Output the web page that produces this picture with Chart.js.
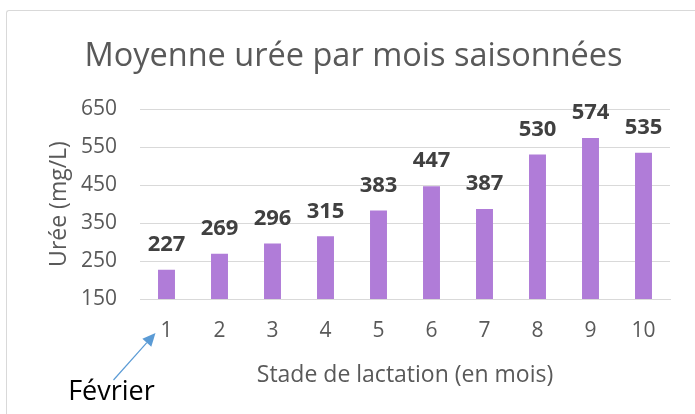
<!DOCTYPE html>
<html>
<head>
<meta charset="utf-8">
<script src="https://cdn.jsdelivr.net/npm/chart.js@4/dist/chart.umd.min.js"></script>
<style>
  html, body { margin: 0; padding: 0; background: #fff; }
  #wrap { position: relative; width: 695px; height: 414px; }
  #frame { position: absolute; left: 6px; top: 10px; right: 0; bottom: 0; border-left: 1px solid #d9d9d9; border-top: 1px solid #d9d9d9; border-radius: 3px 0 0 0; pointer-events: none; }
  canvas { position: absolute; left: 0; top: 0; }
</style>
</head>
<body>
<div id="wrap">
  <div id="frame"></div>
  <canvas id="c" width="695" height="414"></canvas>
</div>
<script>
const categories = ['1', '2', '3', '4', '5', '6', '7', '8', '9', '10'];
const ureaValues = [227, 269, 296, 315, 383, 447, 387, 530, 574, 535];
const yTicks = [150, 250, 350, 450, 550, 650];
const titleText = 'Moyenne urée par mois saisonnées';
const xTitle = 'Stade de lactation (en mois)';
const yTitle = 'Urée (mg/L)';
const noteText = 'Février';

const FONT = "'Open Sans', 'Noto Sans', sans-serif";

const valueLabels = {
  id: 'valueLabels',
  afterDatasetsDraw(chart) {
    const ctx = chart.ctx;
    const meta = chart.getDatasetMeta(0);
    ctx.save();
    ctx.font = "bold 22px " + FONT;
    ctx.fillStyle = '#404040';
    ctx.textAlign = 'center';
    ctx.textBaseline = 'middle';
    meta.data.forEach((bar, i) => {
      ctx.fillText(String(chart.data.datasets[0].data[i]), bar.x, bar.y - 25);
    });
    ctx.restore();
  }
};

const texts = {
  id: 'texts',
  afterDraw(chart) {
    const ctx = chart.ctx;
    const ca = chart.chartArea;
    ctx.save();
    ctx.font = "32.5px " + FONT;
    ctx.fillStyle = '#595959';
    ctx.textAlign = 'center';
    ctx.textBaseline = 'middle';
    ctx.fillText(titleText, chart.width / 2 + 6, 57);
    ctx.save();
    ctx.translate(59, (ca.top + ca.bottom) / 2);
    ctx.rotate(-Math.PI / 2);
    ctx.font = "23px " + FONT;
    ctx.fillText(yTitle, 0, 0);
    ctx.restore();
    const xs = chart.scales.x;
    const tx = xs.getPixelForValue(0) - 11;
    const ty = xs.top + 34;
    const sx = tx - 42, sy = ty + 47;
    ctx.strokeStyle = '#5b9bd5';
    ctx.fillStyle = '#5b9bd5';
    ctx.lineWidth = 1.2;
    const ang = Math.atan2(ty - sy, tx - sx);
    const hl = 13, hw = 6;
    const bx = tx - hl * Math.cos(ang), by = ty - hl * Math.sin(ang);
    ctx.beginPath();
    ctx.moveTo(sx, sy);
    ctx.lineTo(bx, by);
    ctx.stroke();
    ctx.beginPath();
    ctx.moveTo(tx, ty);
    ctx.lineTo(bx + hw * Math.sin(ang), by - hw * Math.cos(ang));
    ctx.lineTo(bx - hw * Math.sin(ang), by + hw * Math.cos(ang));
    ctx.closePath();
    ctx.fill();
    ctx.font = "27px " + FONT;
    ctx.fillStyle = '#000';
    ctx.fillText(noteText, sx - 2, sy + 12);
    ctx.restore();
  }
};

new Chart(document.getElementById('c'), {
  type: 'bar',
  data: {
    labels: categories,
    datasets: [{
      data: ureaValues,
      backgroundColor: '#b07cd8',
      borderWidth: 0,
      categoryPercentage: 1,
      barPercentage: 0.32
    }]
  },
  options: {
    responsive: false,
    animation: false,
    devicePixelRatio: 1,
    layout: { padding: { left: 0, right: 25, top: 109, bottom: 25 } },
    plugins: {
      legend: { display: false },
      tooltip: { enabled: false },
      title: { display: false }
    },
    scales: {
      x: {
        grid: { display: false, drawTicks: false },
        border: { display: true, color: '#d9d9d9' },
        ticks: { color: '#595959', font: { family: FONT, size: 21 }, padding: 19, maxRotation: 0 },
        title: { display: true, text: xTitle, color: '#595959', font: { family: FONT, size: 23 }, padding: { top: 0, bottom: 0 } },
        afterFit(s) { s.height = 90; }
      },
      y: {
        min: 150, max: 650,
        afterBuildTicks(s) { s.ticks = yTicks.map(v => ({ value: v })); },
        grid: { color: '#d9d9d9', drawTicks: false },
        border: { display: false },
        ticks: { color: '#595959', font: { family: FONT, size: 21 }, padding: 23 },
        title: { display: false },
        afterFit(s) { s.width = 140; }
      }
    }
  },
  plugins: [valueLabels, texts]
});
</script>
</body>
</html>
